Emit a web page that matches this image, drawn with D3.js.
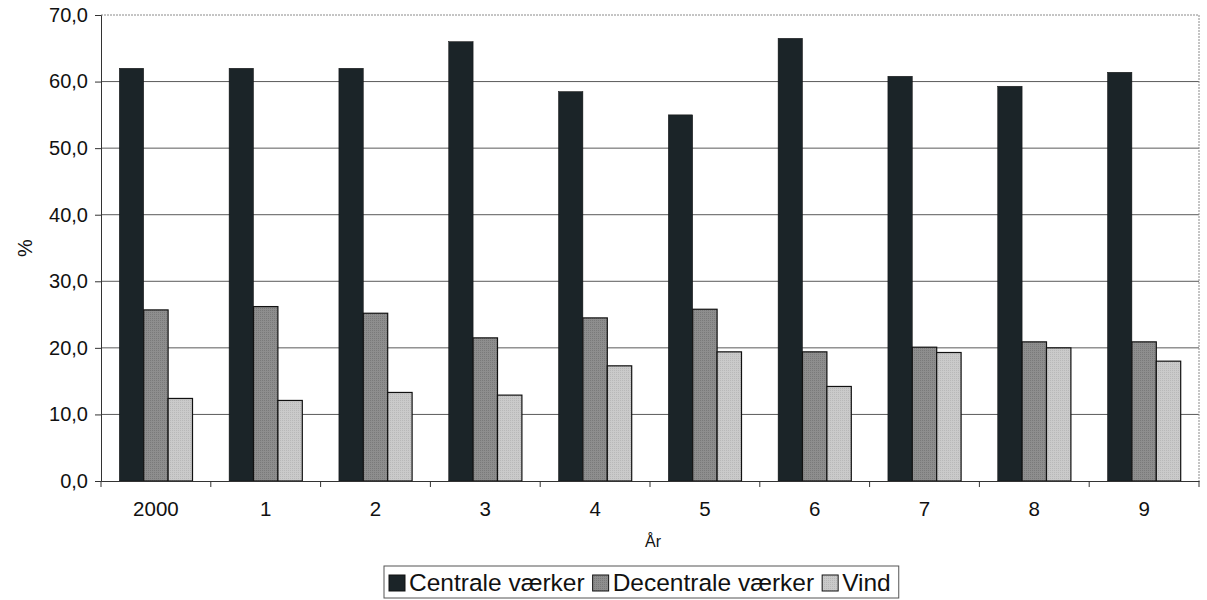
<!DOCTYPE html>
<html>
  <head>
    <meta charset="utf-8">
    <style>
     body{
         margin: 0;
         background-color: #fff;
     }
     text{
         font-family: "Liberation Sans", Arial, sans-serif;
         fill: #111;
     }
    </style>
    <script src="https://d3js.org/d3.v7.min.js"></script>
    <title>Andel af elproduktion</title>
  </head>
  <body>
    <script>
    // data
    const years = ["2000", "1", "2", "3", "4", "5", "6", "7", "8", "9"];
    const centrale = [62.0, 62.0, 62.0, 66.0, 58.5, 55.0, 66.5, 60.8, 59.3, 61.4];
    const decentrale = [25.7, 26.2, 25.2, 21.5, 24.5, 25.8, 19.4, 20.1, 20.9, 20.9];
    const vind = [12.4, 12.1, 13.3, 12.9, 17.3, 19.4, 14.2, 19.3, 20.0, 18.0];
    const seriesNames = ["Centrale værker", "Decentrale værker", "Vind"];
    const yTicks = [0, 10, 20, 30, 40, 50, 60, 70];

    const w = 1207;
    const h = 600;
    const plotLeft = 101, plotRight = 1199, plotTop = 15, plotBottom = 481;

    const series = [centrale, decentrale, vind];
    const colors = ["#1b2428", "url(#pat2)", "url(#pat3)"];

    const svg = d3.select("body")
                  .append("svg")
                  .attr("width", w)
                  .attr("height", h);

    // dotted fill patterns like the scanned bars
    const defs = svg.append("defs");
    const p2 = defs.append("pattern").attr("id", "pat2")
       .attr("width", 2).attr("height", 2).attr("patternUnits", "userSpaceOnUse");
    p2.append("rect").attr("width", 2).attr("height", 2).attr("fill", "#8e8e8e");
    p2.append("rect").attr("width", 1).attr("height", 1).attr("fill", "#7a7a7a");
    const p3 = defs.append("pattern").attr("id", "pat3")
       .attr("width", 2).attr("height", 2).attr("patternUnits", "userSpaceOnUse");
    p3.append("rect").attr("width", 2).attr("height", 2).attr("fill", "#cacaca");
    p3.append("rect").attr("width", 1).attr("height", 1).attr("fill", "#b8b8b8");

    const xScale = d3.scaleBand()
                     .domain(years)
                     .range([plotLeft, plotRight]);
    const inner = d3.scaleBand()
                    .domain([0, 1, 2])
                    .range([0, xScale.bandwidth()])
                    .paddingInner(0)
                    .paddingOuter(0.75);

    const yScale = d3.scaleLinear()
                     .domain([0, 70])
                     .range([plotBottom, plotTop]);

    // gridlines
    svg.append("g").selectAll("line")
       .data(yTicks.filter(d => d > 0 && d < 70))
       .enter().append("line")
       .attr("x1", plotLeft).attr("x2", plotRight)
       .attr("y1", d => yScale(d)).attr("y2", d => yScale(d))
       .attr("stroke", "#5a5a5a").attr("stroke-width", 1);

    // plot border top/right
    svg.append("path")
       .attr("d", "M" + plotLeft + "," + plotTop + "H" + plotRight + "V" + plotBottom)
       .attr("fill", "none")
       .attr("stroke", "#8a8a8a")
       .attr("stroke-dasharray", "2,1");

    // bars
    series.forEach(function(vals, s){
      svg.append("g").selectAll("rect")
         .data(vals)
         .enter()
         .append("rect")
         .attr("x", (d, i) => xScale(years[i]) + inner(s))
         .attr("y", d => yScale(d))
         .attr("width", inner.bandwidth())
         .attr("height", d => yScale(0) - yScale(d))
         .attr("fill", colors[s])
         .attr("stroke", "#111")
         .attr("stroke-width", s === 0 ? 0.5 : 1.2);
    });

    // y axis
    const yAxis = d3.axisLeft(yScale)
                    .tickValues(yTicks)
                    .tickSize(6)
                    .tickPadding(7)
                    .tickFormat(d => d3.format(".1f")(d).replace(".", ","));
    const gy = svg.append("g")
       .attr("transform", "translate(" + plotLeft + ",0)")
       .call(yAxis);
    gy.selectAll("text").style("font-size", "20px");
    gy.selectAll("line, path").attr("stroke", "#333");

    // x axis
    const xAxis = d3.axisBottom(xScale).tickSize(0).tickPadding(20);
    const gx = svg.append("g")
       .attr("transform", "translate(0," + plotBottom + ")")
       .call(xAxis);
    gx.selectAll("text").style("font-size", "20.5px");
    gx.selectAll("path").attr("stroke", "#333");
    gx.append("g").selectAll("line")
       .data(years.concat(["end"]))
       .enter().append("line")
       .attr("x1", (d, i) => plotLeft + i * xScale.step())
       .attr("x2", (d, i) => plotLeft + i * xScale.step())
       .attr("y1", 0).attr("y2", 6)
       .attr("stroke", "#333");

    // axis titles
    svg.append("text")
       .attr("x", (plotLeft + plotRight) / 2 + 3)
       .attr("y", 547)
       .attr("text-anchor", "middle")
       .style("font-size", "16px")
       .text("År");
    svg.append("text")
       .attr("transform", "translate(32,248) rotate(-90)")
       .attr("text-anchor", "middle")
       .style("font-size", "20px")
       .text("%");

    // legend, items laid out one after another
    const lg = svg.append("g").attr("transform", "translate(384,566)");
    const box = lg.append("rect")
      .attr("height", 32)
      .attr("fill", "#fff").attr("stroke", "#555");
    let cx = 5;
    seriesNames.forEach(function(name, s){
      lg.append("rect")
        .attr("x", cx).attr("y", 9)
        .attr("width", 16).attr("height", 16)
        .attr("fill", colors[s])
        .attr("stroke", "#111");
      const t = lg.append("text")
        .attr("x", cx + 20).attr("y", 25)
        .style("font-size", "24.5px")
        .text(name);
      cx += 20 + t.node().getComputedTextLength() + 8;
    });
    box.attr("width", cx);
    </script>
  </body>
</html>
